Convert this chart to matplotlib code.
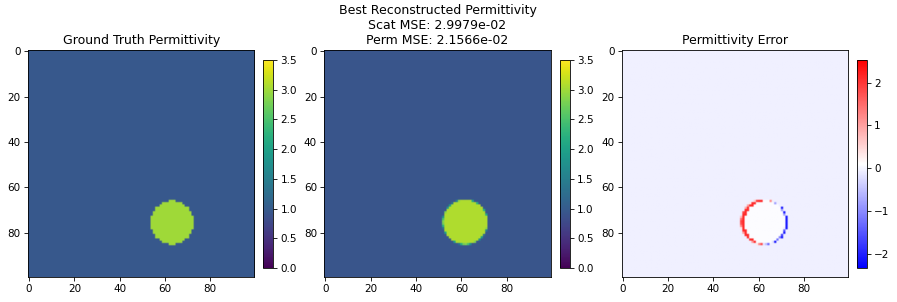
import numpy as np
import matplotlib
matplotlib.use('Agg')
import matplotlib.pyplot as plt

# grid and scene
n = 100
bg_true = 0.97           # background permittivity
inc_true = 3.0           # inclusion permittivity
center_true = (75.5, 63.0)   # (row, col)
radius_true = 9.6

# best reconstruction: slightly shifted circle
bg_rec = 0.92
inc_rec = 3.08
center_rec = (75.3, 61.7)
radius_rec = 9.9

scat_mse = 2.9979e-02
perm_mse = 2.1566e-02

perm_lim = (0.0, 3.5)
err_lim = (-2.33, 2.53)

rows, cols = np.mgrid[0:n, 0:n]

d_true = np.hypot(rows - center_true[0], cols - center_true[1])
eps_true = np.where(d_true <= radius_true, inc_true, bg_true)

d_rec = np.hypot(rows - center_rec[0], cols - center_rec[1])
w = np.clip((radius_rec - d_rec) * 2 + 0.5, 0, 1)  # soft edge
eps_rec = bg_rec + (inc_rec - bg_rec) * w

err = eps_rec - eps_true

W, H = 897, 302
dpi = 75
fig = plt.figure(figsize=(W / dpi, H / dpi), dpi=dpi)

ax_w = 226.5 / W
ax_h = 226.5 / H
ax_b = (H - 276.7) / H
cb_w = 10.0 / W
cb_b = (H - 268) / H
cb_h = 208 / H

lefts = [27.9, 324.3, 621.7]
cb_lefts = [263.3, 559.7, 857.0]

ax1 = fig.add_axes([lefts[0] / W, ax_b, ax_w, ax_h])
cax1 = fig.add_axes([cb_lefts[0] / W, cb_b, cb_w, cb_h])
im1 = ax1.imshow(eps_true, cmap='viridis', vmin=perm_lim[0], vmax=perm_lim[1])
ax1.set_title('Ground Truth Permittivity')
fig.colorbar(im1, cax=cax1)

ax2 = fig.add_axes([lefts[1] / W, ax_b, ax_w, ax_h])
cax2 = fig.add_axes([cb_lefts[1] / W, cb_b, cb_w, cb_h])
im2 = ax2.imshow(eps_rec, cmap='viridis', vmin=perm_lim[0], vmax=perm_lim[1])
ax2.set_title('Best Reconstructed Permittivity\nScat MSE: %.4e\nPerm MSE: %.4e' % (scat_mse, perm_mse))
fig.colorbar(im2, cax=cax2)

ax3 = fig.add_axes([lefts[2] / W, ax_b, ax_w, ax_h])
cax3 = fig.add_axes([cb_lefts[2] / W, cb_b, cb_w, cb_h])
im3 = ax3.imshow(err, cmap='bwr', vmin=err_lim[0], vmax=err_lim[1])
ax3.set_title('Permittivity Error')
fig.colorbar(im3, cax=cax3)

fig.savefig('out.png', dpi=dpi)
